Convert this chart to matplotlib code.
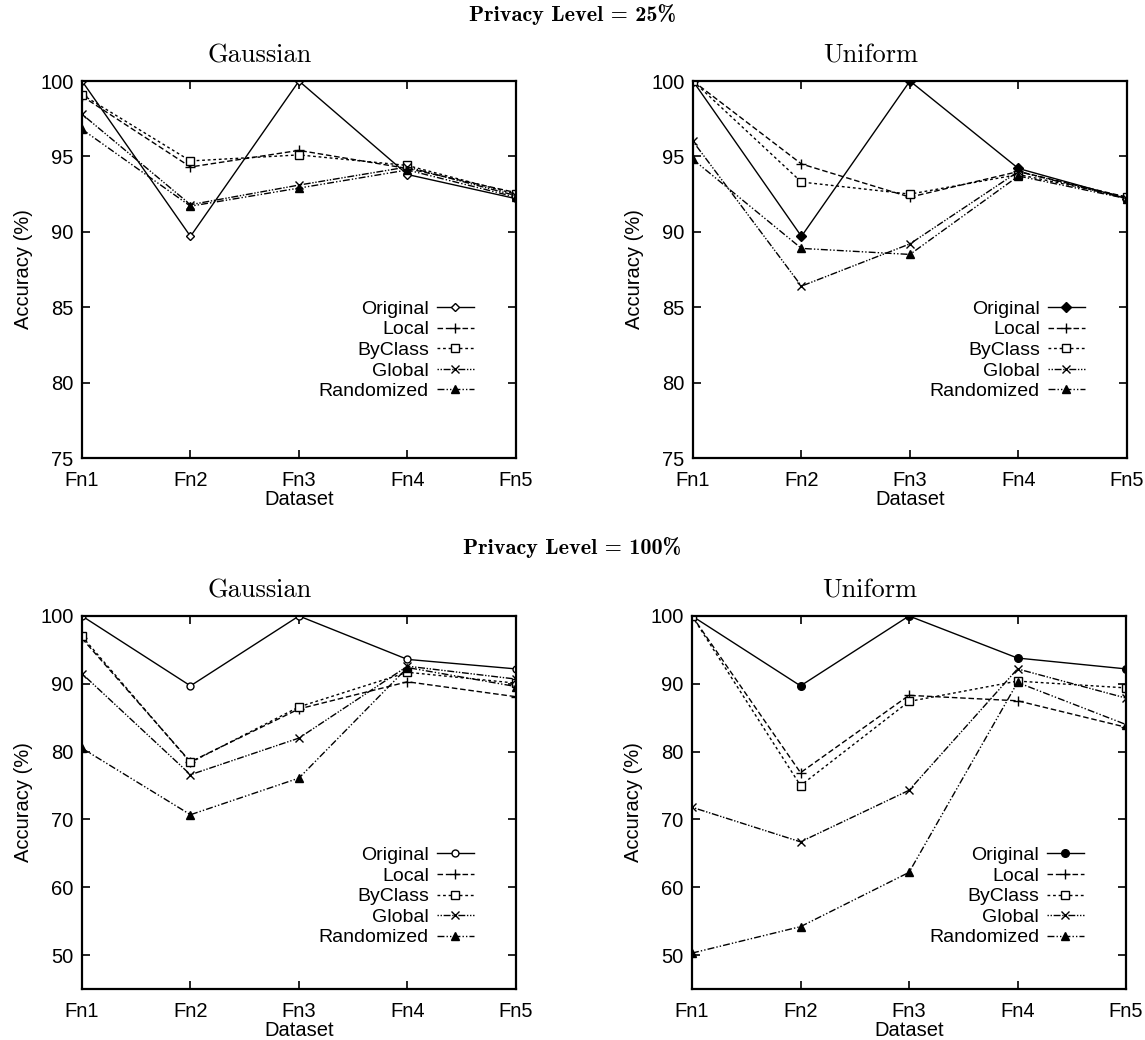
"""Privacy-preserving classifier accuracy, 2x2 panel recreation."""

import matplotlib

matplotlib.use("Agg")
import matplotlib.pyplot as plt

datasets = ["Fn1", "Fn2", "Fn3", "Fn4", "Fn5"]
methods = ["Original", "Local", "ByClass", "Global", "Randomized"]

# privacy level 25%
gauss25_original = [100.0, 89.7, 100.0, 93.8, 92.2]
gauss25_local = [99.0, 94.3, 95.4, 94.2, 92.6]
gauss25_byclass = [99.1, 94.7, 95.1, 94.4, 92.5]
gauss25_global = [97.8, 91.8, 93.1, 94.3, 92.4]
gauss25_randomized = [96.8, 91.7, 92.9, 94.1, 92.3]

unif25_original = [100.0, 89.7, 100.0, 94.2, 92.2]
unif25_local = [100.0, 94.5, 92.3, 94.0, 92.3]
unif25_byclass = [100.0, 93.3, 92.5, 93.8, 92.3]
unif25_global = [96.0, 86.4, 89.2, 94.0, 92.2]
unif25_randomized = [94.8, 88.9, 88.5, 93.7, 92.2]

# privacy level 100%
gauss100_original = [100.0, 89.7, 100.0, 93.6, 92.2]
gauss100_local = [96.7, 78.5, 86.3, 90.3, 88.1]
gauss100_byclass = [97.0, 78.4, 86.6, 91.7, 90.1]
gauss100_global = [91.5, 76.6, 82.0, 92.6, 90.7]
gauss100_randomized = [80.5, 70.7, 76.1, 92.4, 89.6]

unif100_original = [100.0, 89.7, 100.0, 93.8, 92.2]
unif100_local = [100.0, 76.9, 88.3, 87.5, 83.6]
unif100_byclass = [100.0, 75.0, 87.4, 90.4, 89.4]
unif100_global = [71.8, 66.7, 74.3, 92.2, 87.9]
unif100_randomized = [50.3, 54.2, 62.2, 90.2, 84.0]

SANS = ["Liberation Sans", "DejaVu Sans"]

# line style per method (gnuplot-like black lines)
STYLES = {
    "Original": dict(linestyle="-"),
    "Local": dict(linestyle=(0, (4, 2)), marker="+", markersize=7),
    "ByClass": dict(linestyle=(0, (2, 2)), marker="s", markersize=5.5,
                    markerfacecolor="white"),
    "Global": dict(linestyle=(0, (1, 1.2, 1, 1.2, 5, 1.2)), marker="x",
                   markersize=6),
    "Randomized": dict(linestyle=(0, (5, 1.5, 1, 1.5, 1, 1.5)), marker="^",
                       markersize=6),
}


def draw_panel(ax, series, title, original_marker, ylim, yticks, legend_y):
    xs = range(len(datasets))
    for name, values in zip(methods, series):
        style = dict(STYLES[name])
        if name == "Original":
            style.update(original_marker)
        ax.plot(xs, values, color="black", linewidth=1.0, label=name, **style)

    ax.set_xlim(0, len(datasets) - 1)
    ax.set_ylim(*ylim)
    ax.set_xticks(list(xs))
    ax.set_xticklabels(datasets, family=SANS, fontsize=14.5)
    ax.set_yticks(yticks)
    ax.set_yticklabels([str(v) for v in yticks], family=SANS, fontsize=14.5)
    ax.tick_params(direction="in", length=6, width=1.2, top=True, right=True)
    ax.tick_params(axis="x", pad=9)
    ax.tick_params(axis="y", pad=6)
    for spine in ax.spines.values():
        spine.set_linewidth(1.6)

    ax.set_xlabel("Dataset", family=SANS, fontsize=14.5, labelpad=0)
    ax.set_ylabel("Accuracy (%)", family=SANS, fontsize=14.5, labelpad=5)
    # gnuplot centres the title over the whole plot box, labels included
    ax.set_title(title, family="cmr10", fontsize=19, pad=13, x=0.41)

    ax.legend(loc="center right", bbox_to_anchor=(0.925, legend_y),
              markerfirst=False, frameon=False, labelspacing=0.15,
              handlelength=1.9, handletextpad=0.4, borderpad=0.0,
              prop={"family": SANS, "size": 14})


fig = plt.figure(figsize=(11.45, 10.4), dpi=100)

ax_g25 = fig.add_axes([0.0716, 0.5596, 0.379, 0.3625])
ax_u25 = fig.add_axes([0.6052, 0.5596, 0.379, 0.3625])
ax_g100 = fig.add_axes([0.0716, 0.0490, 0.379, 0.3587])
ax_u100 = fig.add_axes([0.6044, 0.0490, 0.379, 0.3587])

draw_panel(ax_g25,
           [gauss25_original, gauss25_local, gauss25_byclass, gauss25_global, gauss25_randomized],
           "Gaussian", dict(marker="D", markersize=4.5, markerfacecolor="white"),
           (75, 100), [75, 80, 85, 90, 95, 100], 0.286)
draw_panel(ax_u25,
           [unif25_original, unif25_local, unif25_byclass, unif25_global, unif25_randomized],
           "Uniform", dict(marker="D", markersize=5),
           (75, 100), [75, 80, 85, 90, 95, 100], 0.286)
draw_panel(ax_g100,
           [gauss100_original, gauss100_local, gauss100_byclass, gauss100_global, gauss100_randomized],
           "Gaussian", dict(marker="o", markersize=5, markerfacecolor="white"),
           (45, 100), [50, 60, 70, 80, 90, 100], 0.248)
draw_panel(ax_u100,
           [unif100_original, unif100_local, unif100_byclass, unif100_global, unif100_randomized],
           "Uniform", dict(marker="o", markersize=5.5),
           (45, 100), [50, 60, 70, 80, 90, 100], 0.248)

fig.text(0.5, 1 - 15 / 1040, "Privacy Level = 25%", family="cmb10", fontsize=16,
         ha="center", va="center")
fig.text(0.5, 1 - 548 / 1040, "Privacy Level = 100%", family="cmb10", fontsize=16,
         ha="center", va="center")

fig.savefig("out.png", dpi=100)
plt.close(fig)
